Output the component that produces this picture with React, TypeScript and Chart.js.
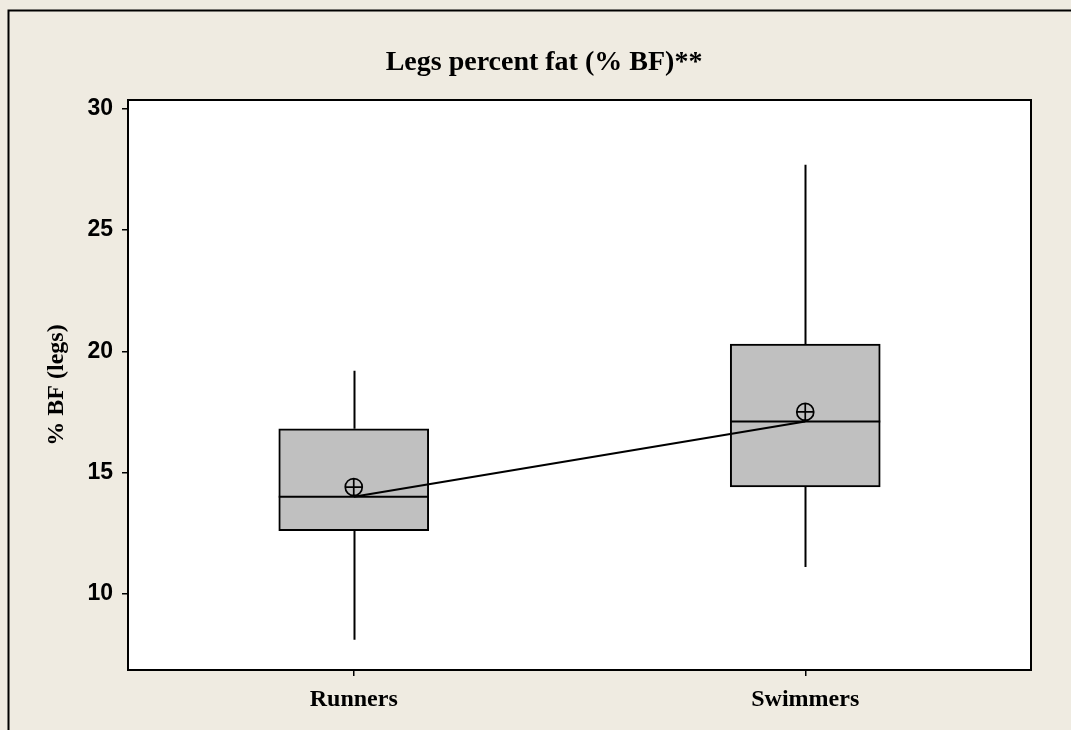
import React, { useEffect, useRef } from 'react';
import { Chart, registerables } from 'chart.js';

Chart.register(...registerables);

const TITLE = 'Legs percent fat (% BF)**';
const Y_TITLE = '% BF (legs)';
const categories = ['Runners', 'Swimmers'];
const whiskerLow = [8.1, 11.1];
const q1 = [12.6, 14.4];
const medians = [14.0, 17.1];
const q3 = [16.8, 20.3];
const whiskerHigh = [19.2, 27.7];
const means = [14.4, 17.5];
const yTicks = [10, 15, 20, 25, 30];

const BG = '#EFEBE1';
const BOX = '#C0C0C0';

const boxPlugin = {
  id: 'boxPlugin',
  beforeDraw(chart: any) {
    const { ctx, width, height, chartArea: a } = chart;
    ctx.save();
    ctx.fillStyle = BG;
    ctx.fillRect(0, 0, width, height);
    ctx.fillStyle = '#ffffff';
    ctx.fillRect(a.left, a.top, a.right - a.left, a.bottom - a.top);
    ctx.strokeStyle = '#000';
    ctx.lineWidth = 2;
    ctx.beginPath();
    ctx.moveTo(8.5, height);
    ctx.lineTo(8.5, 10.5);
    ctx.lineTo(width, 10.5);
    ctx.stroke();
    ctx.fillStyle = '#000';
    ctx.font = 'bold 28px "Liberation Serif", "Times New Roman", serif';
    ctx.textAlign = 'center';
    ctx.textBaseline = 'alphabetic';
    ctx.fillText(TITLE, 544, 70);
    ctx.restore();
  },
  beforeDatasetsDraw(chart: any) {
    const { ctx } = chart;
    const xs = chart.scales.x;
    const ys = chart.scales.y;
    ctx.save();
    ctx.strokeStyle = '#000';
    ctx.lineWidth = 2;
    categories.forEach((_, i) => {
      const x = Math.round(xs.getPixelForValue(i)) + 0.5;
      ctx.beginPath();
      ctx.moveTo(x, ys.getPixelForValue(whiskerLow[i]));
      ctx.lineTo(x, ys.getPixelForValue(q1[i]));
      ctx.moveTo(x, ys.getPixelForValue(q3[i]));
      ctx.lineTo(x, ys.getPixelForValue(whiskerHigh[i]));
      ctx.stroke();
    });
    ctx.restore();
  },
  afterDatasetsDraw(chart: any) {
    const { ctx, chartArea: a } = chart;
    const xs = chart.scales.x;
    const ys = chart.scales.y;
    const barMeta = chart.getDatasetMeta(1);
    ctx.save();
    ctx.strokeStyle = '#000';
    ctx.lineWidth = 2;
    categories.forEach((_, i) => {
      const x = xs.getPixelForValue(i);
      const bw = barMeta.data[i].width;
      const ym = ys.getPixelForValue(medians[i]);
      ctx.beginPath();
      ctx.moveTo(x - bw / 2, ym);
      ctx.lineTo(x + bw / 2, ym);
      ctx.stroke();
      const yMean = ys.getPixelForValue(means[i]);
      const r = 8.5;
      ctx.lineWidth = 1.7;
      ctx.beginPath();
      ctx.arc(x, yMean, r, 0, Math.PI * 2);
      ctx.moveTo(x - r, yMean);
      ctx.lineTo(x + r, yMean);
      ctx.moveTo(x, yMean - r);
      ctx.lineTo(x, yMean + r);
      ctx.stroke();
      ctx.lineWidth = 2;
    });
    ctx.lineWidth = 2;
    ctx.strokeRect(a.left, a.top, a.right - a.left, a.bottom - a.top);
    ctx.restore();
  },
};

export default function App() {
  const ref = useRef<HTMLCanvasElement | null>(null);
  useEffect(() => {
    if (!ref.current) return;
    const chart = new Chart(ref.current, {
      type: 'bar',
      data: {
        labels: categories,
        datasets: [
          {
            type: 'line',
            data: medians,
            borderColor: '#000',
            borderWidth: 2,
            pointRadius: 0,
            fill: false,
            tension: 0,
          } as any,
          {
            type: 'bar',
            data: categories.map((_, i) => [q1[i], q3[i]]),
            backgroundColor: BOX,
            borderColor: '#000',
            borderWidth: 2,
            borderSkipped: false,
            barThickness: 150,
          } as any,
        ],
      },
      options: {
        responsive: false,
        animation: false,
        events: [],
        layout: { padding: { top: 100, right: 40, bottom: 0, left: 0 } },
        plugins: {
          legend: { display: false },
          title: { display: false },
          tooltip: { enabled: false },
        },
        scales: {
          x: {
            type: 'category',
            offset: true,
            afterFit: (s: any) => { s.height = 60; },
            border: { display: false },
            grid: {
              offset: false,
              drawOnChartArea: false,
              drawTicks: true,
              tickLength: 6,
              color: '#000',
              lineWidth: 1.5,
            },
            ticks: {
              color: '#000',
              padding: 9,
              font: { family: '"Liberation Serif", "Times New Roman", serif', weight: 'bold', size: 24 },
            },
          },
          y: {
            type: 'linear',
            min: 6.85,
            max: 30.37,
            afterFit: (s: any) => { s.width = 128; },
            afterBuildTicks: (s: any) => { s.ticks = yTicks.map((v) => ({ value: v })); },
            border: { display: false },
            grid: {
              drawOnChartArea: false,
              drawTicks: true,
              tickLength: 6,
              color: '#000',
              lineWidth: 1.5,
            },
            ticks: {
              color: '#000',
              padding: 9,
              font: { family: '"Liberation Sans", Arial, sans-serif', weight: 'bold', size: 23 },
            },
            title: {
              display: true,
              text: Y_TITLE,
              color: '#000',
              padding: { top: 42, bottom: 0 },
              font: { family: '"Liberation Serif", "Times New Roman", serif', weight: 'bold', size: 24 },
            },
          },
        },
      },
      plugins: [boxPlugin],
    } as any);
    return () => chart.destroy();
  }, []);
  return (
    <div style={{ position: 'absolute', left: 0, top: 0, width: 1071, height: 730 }}>
      <canvas ref={ref} width={1071} height={730} style={{ display: 'block' }} />
    </div>
  );
}
